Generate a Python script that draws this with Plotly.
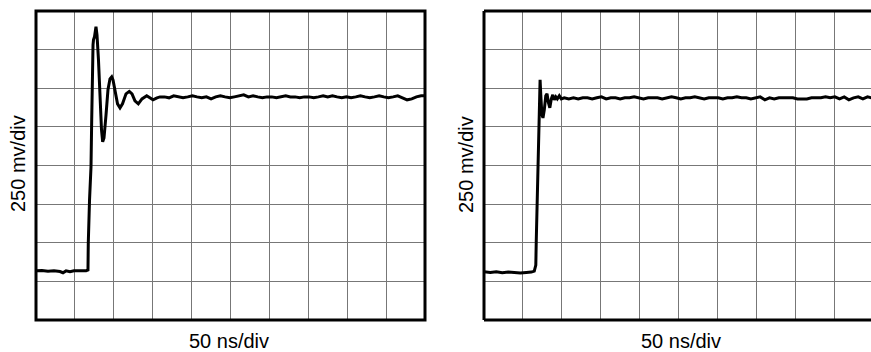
import plotly.graph_objects as go

# ---- data (time in ns, amplitude in mV) ----
left_t = [0, 7.7, 15.4, 23.1, 30.8, 34.7, 38.6, 43.7, 48.8, 56.6, 64.3, 66.8, 67.2, 68.8, 70.7,
          71.6, 72.0, 73.3, 73.9, 75.2, 77.1, 78.4, 80.3, 82.3, 84.2, 85.7, 87.4, 90.0, 92.5,
          95.1, 97.3, 99.0, 101.5, 104.8, 108.0, 111.2, 115.7, 119.9, 123.4, 127.2, 131.5,
          136.2, 142.3, 146.5, 150.4, 155.5, 159.4,
          165, 171, 177, 183, 189, 195, 201, 207, 213, 219, 225, 231, 237, 243, 249, 255, 261,
          267, 273, 279, 285, 291, 297, 303, 309, 315, 321, 327, 333, 339, 345, 351, 357, 363,
          369, 375, 381, 387, 393, 399, 405, 411, 417, 423, 429, 435, 441, 447, 453, 459, 465,
          471, 477, 483, 489, 495, 500]
left_v = [318, 320, 316, 318, 314, 306, 318, 312, 318, 318, 318, 324, 499, 777, 991,
          1295, 1554, 1781, 1813, 1833, 1898, 1846, 1684, 1425, 1231, 1153, 1179, 1328, 1490,
          1561, 1574, 1554, 1477, 1399, 1373, 1399, 1464, 1480, 1464, 1418, 1399,
          1431, 1451, 1438, 1425, 1438, 1444,
          1444, 1438, 1451, 1444, 1438, 1444, 1451, 1444, 1438, 1444, 1431, 1444, 1451, 1444,
          1438, 1444, 1451, 1457, 1444, 1451, 1444, 1438, 1444, 1444, 1438, 1444, 1451, 1444,
          1444, 1438, 1444, 1444, 1438, 1444, 1451, 1444, 1451, 1444, 1438, 1444, 1438, 1444,
          1451, 1444, 1438, 1444, 1451, 1444, 1438, 1444, 1451, 1438, 1425, 1431, 1444, 1451,
          1451]

right_t = [0, 8.1, 15.8, 23.5, 31.2, 38.9, 46.7, 54.4, 60.8, 64.6, 66.6, 67.2, 68.5, 69.4,
           70.4, 71.1, 71.4, 72.1, 73.0, 73.6, 74.4, 75.8, 77.5, 79.4, 81.0, 82.6, 84.6, 86.5,
           88.4, 90.4, 92.3, 94.2, 96.8, 99.4, 103.2,
           109, 115, 121, 127, 133, 139, 145, 151, 157, 163, 169, 175, 181, 187, 193, 199, 205,
           211, 217, 223, 229, 235, 241, 247, 253, 259, 265, 271, 277, 283, 289, 295, 301, 307,
           313, 319, 325, 331, 337, 343, 349, 355, 361, 367, 373, 379, 385, 391, 397, 403, 409,
           415, 421, 427, 433, 439, 445, 451, 457, 463, 469, 475, 481, 487, 493, 498]
right_v = [312, 308, 312, 306, 310, 306, 304, 308, 310, 316, 356, 518, 777, 1004,
           1263, 1425, 1522, 1554, 1457, 1392, 1330, 1308, 1360, 1451, 1464, 1412, 1373, 1431,
           1457, 1425, 1444, 1431, 1451, 1431, 1438,
           1431, 1438, 1431, 1438, 1438, 1431, 1438, 1444, 1431, 1438, 1438, 1431, 1438, 1438,
           1444, 1438, 1431, 1438, 1438, 1438, 1431, 1438, 1444, 1438, 1431, 1438, 1438, 1444,
           1438, 1431, 1438, 1438, 1438, 1431, 1438, 1438, 1444, 1438, 1438, 1431, 1438, 1444,
           1425, 1438, 1431, 1438, 1438, 1438, 1438, 1431, 1431, 1431, 1438, 1438, 1438, 1444,
           1438, 1444, 1431, 1444, 1425, 1438, 1444, 1431, 1444, 1438, 1431]

x_title = "50 ns/div"
y_title = "250 mv/div"

fig = go.Figure()
fig.add_trace(go.Scatter(x=left_t, y=left_v, mode="lines", xaxis="x", yaxis="y",
                         line=dict(color="black", width=3), showlegend=False,
                         hoverinfo="skip"))
fig.add_trace(go.Scatter(x=right_t, y=right_v, mode="lines", xaxis="x2", yaxis="y2",
                         line=dict(color="black", width=3), showlegend=False,
                         hoverinfo="skip"))

W, H = 871, 352
P_LEFT, P_TOP, P_BOT = 36, 11, 320          # plot area in page pixels
DIV_X = 38.9                                # pixels per horizontal division
ml, mt, mb = P_LEFT, P_TOP, H - P_BOT
pw = W - ml
ph = P_BOT - P_TOP
R_LEFT = 484
d1 = [0, 10 * DIV_X / pw]
d2 = [(R_LEFT - P_LEFT) / pw, 1]
r2_end = (W - R_LEFT) / DIV_X * 50

grid = dict(showgrid=True, gridcolor="#777777", gridwidth=1, zeroline=False,
            showticklabels=False, ticks="", showline=False)

fig.update_layout(
    width=W, height=H,
    margin=dict(l=ml, r=0, t=mt, b=mb),
    paper_bgcolor="white", plot_bgcolor="white",
    font=dict(family="Liberation Sans, Arial, sans-serif", color="black"),
    xaxis=dict(domain=d1, range=[0, 500], dtick=50, tick0=0, **grid),
    yaxis=dict(domain=[0, 1], range=[0, 2000], dtick=250, tick0=0, **grid),
    xaxis2=dict(domain=d2, range=[0, r2_end], dtick=50, tick0=0, anchor="y2", **grid),
    yaxis2=dict(domain=[0, 1], range=[0, 2000], dtick=250, tick0=0, anchor="x2", **grid),
    hovermode=False,
)

frame = dict(color="black", width=3)
shapes = [
    dict(type="rect", xref="x domain", yref="y domain", x0=0, x1=1, y0=0, y1=1,
         line=frame, layer="above"),
    dict(type="line", xref="x2 domain", yref="y2 domain", x0=0, x1=0, y0=0, y1=1,
         line=frame, layer="above"),
    dict(type="line", xref="x2 domain", yref="y2 domain", x0=0, x1=1, y0=1, y1=1,
         line=frame, layer="above"),
    dict(type="line", xref="x2 domain", yref="y2 domain", x0=0, x1=1, y0=0, y1=0,
         line=frame, layer="above"),
]

ann = []
for px in [229, 681]:
    ann.append(dict(text=x_title, xref="paper", yref="paper", x=(px - P_LEFT) / pw,
                    y=-(341 - P_BOT) / ph, xanchor="center", yanchor="middle",
                    showarrow=False, font=dict(size=20)))
for px in [18, 466]:
    ann.append(dict(text=y_title, xref="paper", yref="paper", x=(px - P_LEFT) / pw,
                    y=(P_BOT - 164) / ph, xanchor="center", yanchor="middle",
                    textangle=-90, showarrow=False, font=dict(size=20)))
fig.update_layout(annotations=ann, shapes=shapes)

fig.write_html(
    "out.html",
    config={"displayModeBar": False},
    post_script=("document.body.style.margin='0';document.body.style.overflow='hidden';"
                 "document.documentElement.style.overflow='hidden';"),
)
